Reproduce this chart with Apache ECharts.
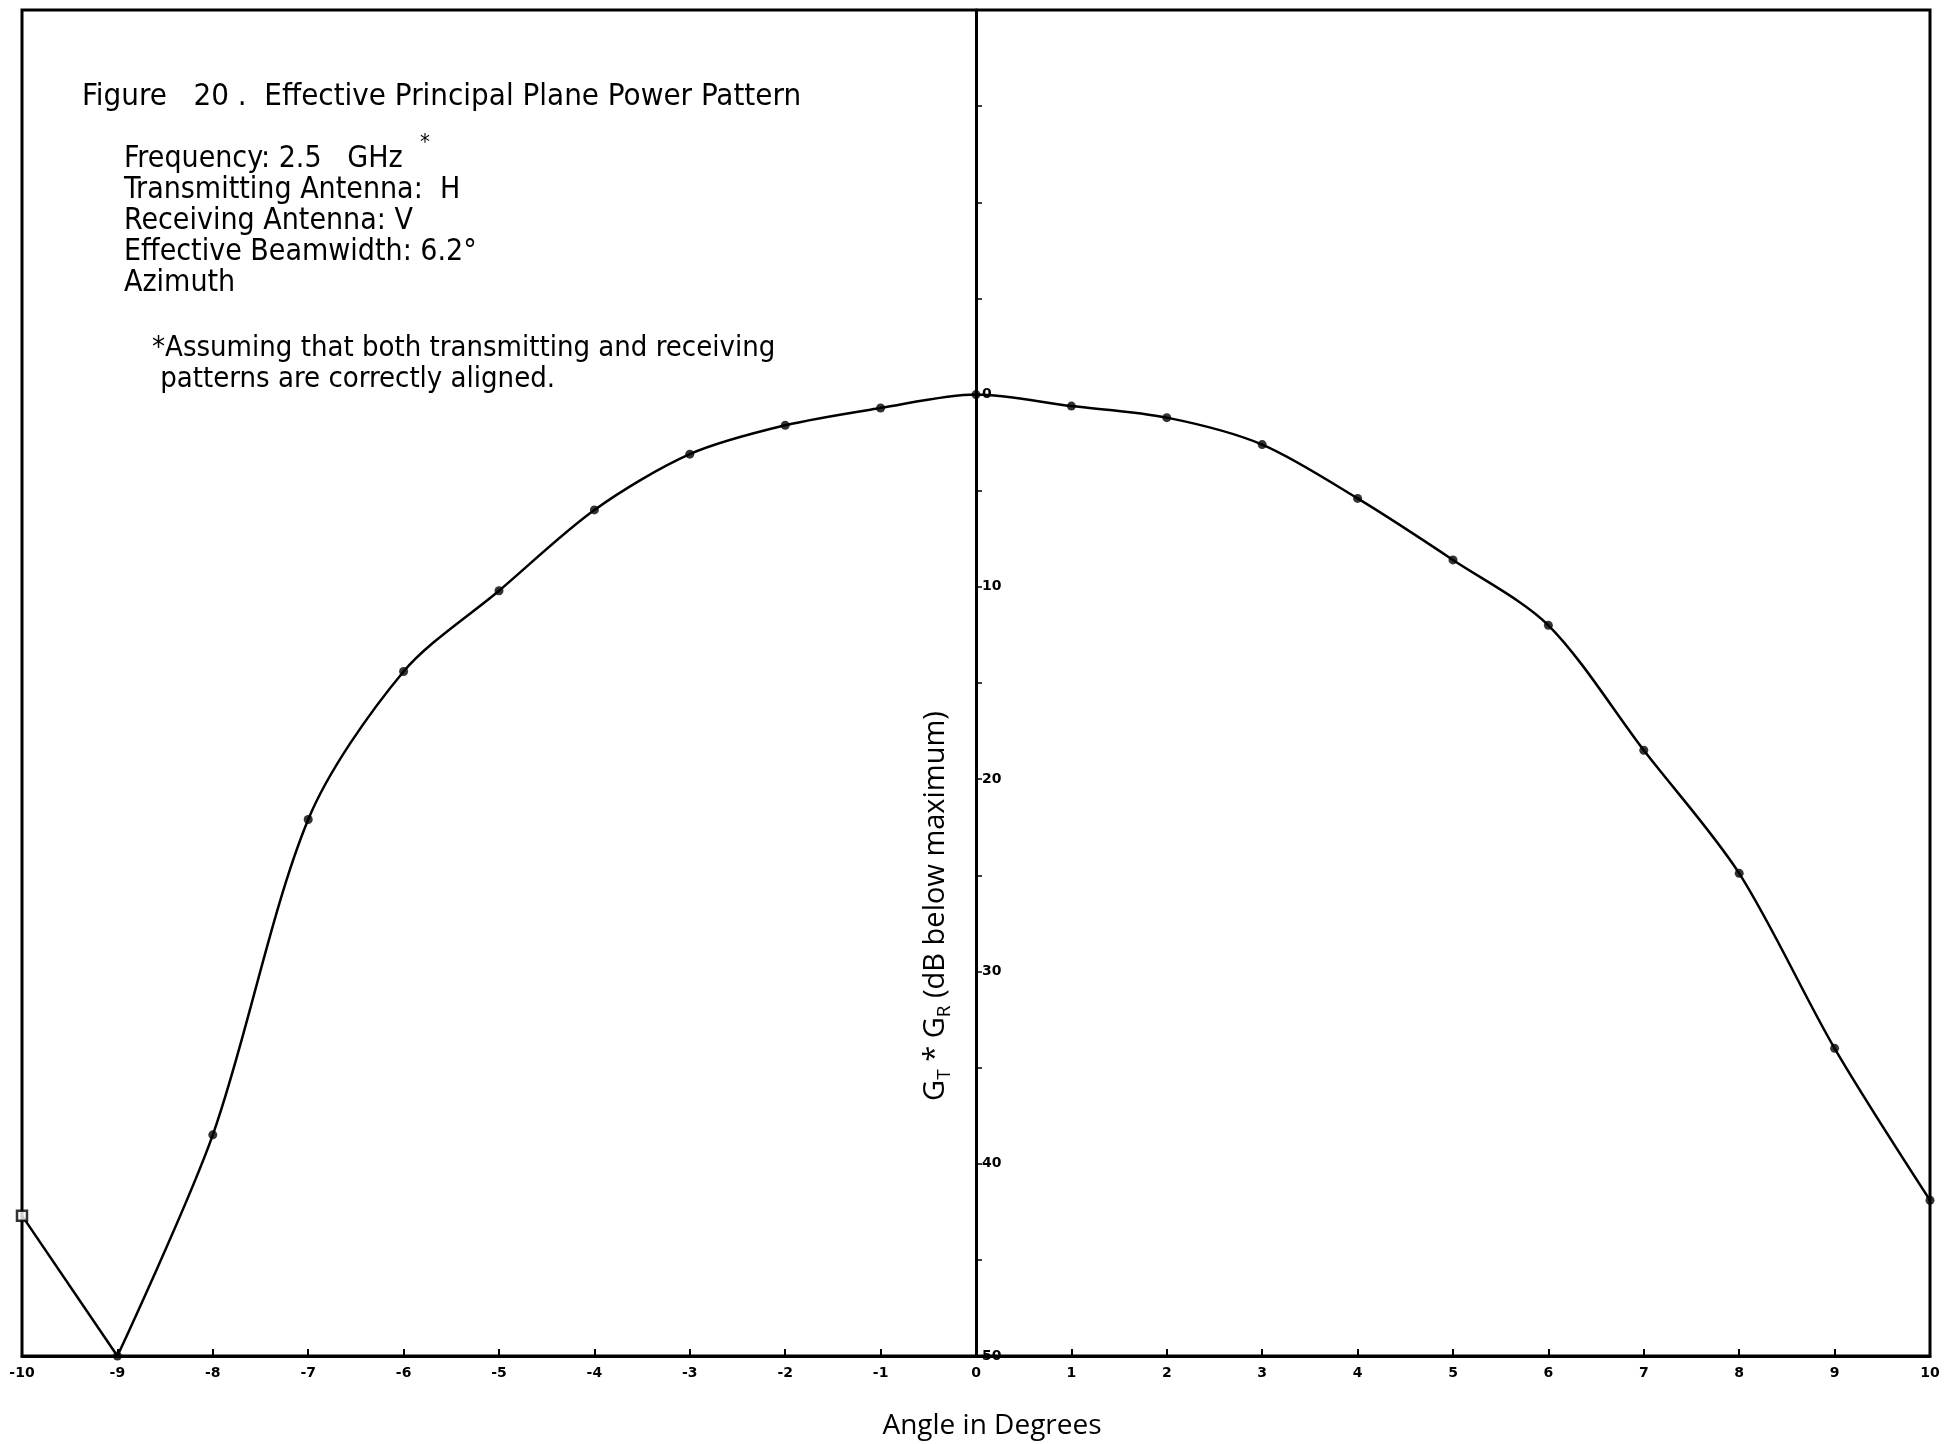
<!DOCTYPE html>
<html>
<head>
<meta charset="utf-8">
<script src="https://cdn.jsdelivr.net/npm/echarts@6/dist/echarts.min.js"></script>
<style>
html,body{margin:0;padding:0;background:#fff;}
#chart{width:1944px;height:1444px;}
</style>
</head>
<body>
<div id="chart"></div>
<script>
// Angle in degrees (x) and G_T*G_R in dB below maximum (y)
const angles = [-10, -9, -8, -7, -6, -5, -4, -3, -2, -1, 0, 1, 2, 3, 4, 5, 6, 7, 8, 9, 10];
const dbBelowMax = [42.7, 50.0, 38.5, 22.1, 14.4, 10.2, 6.0, 3.1, 1.6, 0.7, 0.0, 0.6, 1.2, 2.6, 5.4, 8.6, 12.0, 18.5, 24.9, 34.0, 41.9];
const yTickLabels = [0, 10, 20, 30, 40, 50];

const titleText = 'Figure   20 .  Effective Principal Plane Power Pattern';
const infoLines = ['Frequency: 2.5   GHz', 'Transmitting Antenna:  H', 'Receiving Antenna: V', 'Effective Beamwidth: 6.2\u00B0', 'Azimuth'];
const noteLines = ['*Assuming that both transmitting and receiving', ' patterns are correctly aligned.'];

const FONT = '"Liberation Sans Narrow", "DejaVu Sans Condensed", "Noto Sans", sans-serif';

const pts = angles.map((a, i) => [a, dbBelowMax[i]]);
const minIdx = dbBelowMax.indexOf(Math.max(...dbBelowMax));
const leftBranch = pts.slice(0, minIdx + 1);
const mainBranch = pts.slice(minIdx);

const W = 1944, GL = 22, GR = 14;
const chart = echarts.init(document.getElementById('chart'), null, {renderer: 'canvas'});

const graphics = [];
graphics.push({type: 'text', left: 82, top: 81, style: {text: titleText, font: '31px ' + FONT, fill: '#000'}});
infoLines.forEach((t, i) => {
  graphics.push({type: 'text', left: 124, top: 144 + i * 31, style: {text: t, font: '30px ' + FONT, fill: '#000'}});
});
graphics.push({type: 'text', left: 420, top: 132, style: {text: '*', font: '22px ' + FONT, fill: '#000'}});
noteLines.forEach((t, i) => {
  graphics.push({type: 'text', left: 152, top: 334 + i * 31, style: {text: t, font: '29px ' + FONT, fill: '#000'}});
});

chart.setOption({
  animation: false,
  backgroundColor: '#fff',
  graphic: graphics,
  grid: {left: GL, right: GR, top: 10, bottom: 88, show: true, borderColor: '#000', borderWidth: 3,
         containLabel: false, outerBoundsMode: 'none'},
  xAxis: {
    type: 'value', min: -10, max: 10, interval: 1,
    axisLine: {onZero: false, lineStyle: {color: '#000', width: 3}},
    axisTick: {inside: true, length: 7, lineStyle: {color: '#000', width: 2}},
    splitLine: {show: false},
    axisLabel: {color: '#000', fontSize: 14, fontWeight: 'bold', fontFamily: 'DejaVu Sans', margin: 10},
    name: 'Angle in Degrees', nameLocation: 'middle', nameGap: 56,
    nameTextStyle: {color: '#000', fontSize: 28, fontFamily: '"Open Sans", "DejaVu Sans", sans-serif', padding: [0, 0, 0, 32]}
  },
  yAxis: {
    type: 'value', inverse: true, min: -20, max: 50, interval: 5,
    position: 'left',
    offset: -((W - GL - GR) / 2),
    axisLine: {onZero: false, lineStyle: {color: '#000', width: 3}},
    axisTick: {inside: true, length: 6, lineStyle: {color: '#000', width: 1.5}},
    splitLine: {show: false},
    axisLabel: {
      inside: true, color: '#000', fontSize: 14, fontWeight: 'bold', fontFamily: 'DejaVu Sans', margin: 6,
      formatter: v => (yTickLabels.indexOf(v) >= 0 ? String(v) : '')
    },
    name: '{a|G}{s|T}{a| * G}{s|R}{a| (dB below maximum)}',
    nameLocation: 'middle', nameRotate: 90, nameGap: 22,
    nameTextStyle: {
      color: '#000',
      padding: [0, 446, 0, 0],
      rich: {
        a: {fontSize: 29, fontFamily: '"Open Sans", "DejaVu Sans", sans-serif', color: '#000', lineHeight: 36},
        s: {fontSize: 19, fontFamily: '"Open Sans", "DejaVu Sans", sans-serif', color: '#000', lineHeight: 36, padding: [18, 0, 0, 0]}
      }
    }
  },
  series: [
    {
      type: 'line', data: leftBranch, smooth: false,
      lineStyle: {color: '#000', width: 2.5},
      symbol: 'none'
    },
    {
      type: 'line', data: mainBranch, smooth: 0.3,
      lineStyle: {color: '#000', width: 2.5},
      symbol: 'none'
    },
    {
      type: 'scatter',
      data: pts.map((p, i) => i === 0
        ? {value: p, symbol: 'rect', symbolSize: 10, itemStyle: {color: '#fff', borderColor: '#000', borderWidth: 2.5}}
        : {value: p}),
      symbol: 'circle', symbolSize: 9,
      itemStyle: {color: '#000'},
      z: 5
    }
  ]
});
</script>
</body>
</html>
